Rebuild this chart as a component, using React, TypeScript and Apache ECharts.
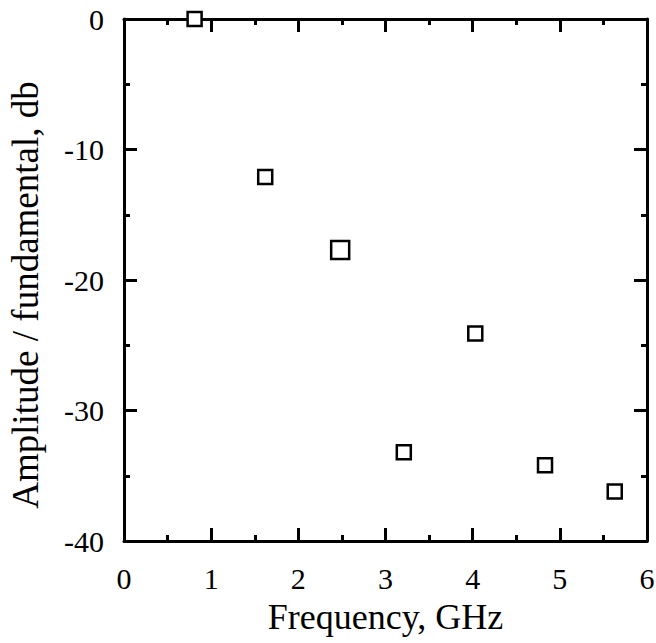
import React, { useEffect, useRef } from "react";
import * as echarts from "echarts";

const freqGHz = [0.81, 1.62, 2.48, 3.21, 4.03, 4.83, 5.63];
const amplitudeDb = [0, -12.1, -17.7, -33.2, -24.1, -34.2, -36.2];
const symbolSizes = [14, 14, 18, 14, 14, 14, 14];
const xTicks = [0, 1, 2, 3, 4, 5, 6];
const yTicks = [0, -10, -20, -30, -40];
const yTitle = "Amplitude / fundamental, db";
const xTitle = "Frequency, GHz";

export default function App() {
  const ref = useRef<HTMLDivElement>(null);
  useEffect(() => {
    if (!ref.current) return;
    const chart = echarts.init(ref.current, null, { renderer: "svg" });
    const font = "'Liberation Serif', 'Times New Roman', serif";
    const axisCommon = {
      axisLine: { show: true, onZero: false, lineStyle: { color: "#000", width: 3 } },
      axisTick: { show: true, inside: true, length: 13, lineStyle: { color: "#000", width: 3 } },
      minorTick: { show: true, splitNumber: 2, length: 6, lineStyle: { color: "#000", width: 3 } },
      splitLine: { show: false },
    };
    chart.setOption({
      animation: false,
      backgroundColor: "#fff",
      grid: { left: 124, top: 19, right: 9, bottom: 102, outerBoundsMode: "none", containLabel: false },
      graphic: [
        {
          type: "text",
          x: 25,
          y: 295,
          rotation: Math.PI / 2,
          style: {
            text: yTitle,
            fontFamily: font,
            fontSize: 37,
            fill: "#000",
            align: "center",
            verticalAlign: "middle",
          },
        },
      ],
      xAxis: [
        {
          type: "value",
          min: 0,
          max: 6,
          interval: 1,
          position: "bottom",
          ...axisCommon,
          axisLabel: {
            color: "#000",
            fontFamily: font,
            fontSize: 30,
            margin: 22,
            formatter: (v: number) => (xTicks.includes(v) ? String(v) : ""),
          },
          name: xTitle,
          nameLocation: "middle",
          nameGap: 58,
          nameTextStyle: { color: "#000", fontFamily: font, fontSize: 36 },
        },
        {
          type: "value",
          min: 0,
          max: 6,
          interval: 1,
          position: "top",
          ...axisCommon,
          axisLabel: { show: false },
        },
      ],
      yAxis: [
        {
          type: "value",
          min: -40,
          max: 0,
          interval: 10,
          position: "left",
          ...axisCommon,
          axisLabel: {
            color: "#000",
            fontFamily: font,
            fontSize: 30,
            margin: 20,
            formatter: (v: number) => (yTicks.includes(v) ? String(v) : ""),
          },
        },
        {
          type: "value",
          min: -40,
          max: 0,
          interval: 10,
          position: "right",
          ...axisCommon,
          axisLabel: { show: false },
        },
      ],
      series: [
        {
          type: "scatter",
          xAxisIndex: 0,
          yAxisIndex: 0,
          symbol: "rect",
          clip: false,
          data: freqGHz.map((x, i) => ({
            value: [x, amplitudeDb[i]],
            symbolSize: symbolSizes[i],
          })),
          itemStyle: { color: "#fff", borderColor: "#000", borderWidth: 2.5, opacity: 1 },
          z: 10,
        },
      ],
    });
    return () => chart.dispose();
  }, []);
  return <div ref={ref} style={{ width: 656, height: 643, position: "absolute", left: 0, top: 0 }} />;
}
